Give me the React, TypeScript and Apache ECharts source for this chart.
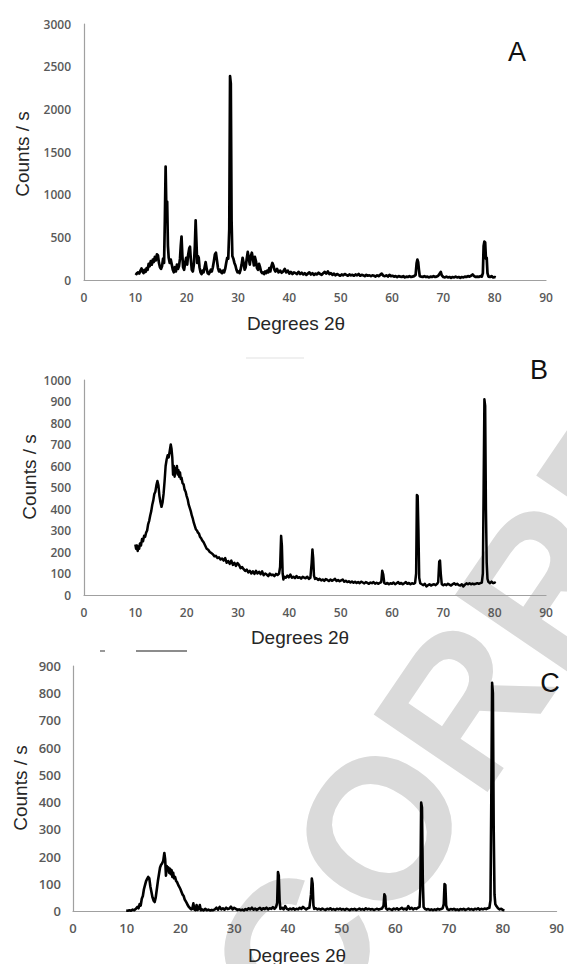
import React, { useEffect, useRef } from "react";
import * as echarts from "echarts";

// ---------- data (degrees 2θ, counts / s) ----------
const seriesA: [number, number][] = [
  [10.0, 80], [10.25, 70], [10.5, 90], [10.75, 75], [11.0, 110], [11.2, 135], [11.4, 100], [11.6, 80], [11.8, 120], [12.0, 95],
  [12.2, 140], [12.4, 120], [12.6, 190], [12.8, 160], [13.0, 220], [13.2, 180], [13.4, 240], [13.6, 210], [13.8, 270], [14.0, 230],
  [14.2, 300], [14.4, 290], [14.6, 200], [14.8, 150], [15.0, 130], [15.2, 160], [15.4, 250], [15.6, 200], [15.75, 700], [15.9, 1330],
  [16.05, 800], [16.2, 920], [16.35, 400], [16.5, 260], [16.7, 200], [16.9, 240], [17.1, 180], [17.3, 120], [17.5, 90], [17.7, 150],
  [17.9, 100], [18.1, 180], [18.3, 130], [18.5, 160], [18.7, 250], [18.85, 400], [19.0, 510], [19.15, 300], [19.3, 150], [19.5, 120],
  [19.7, 200], [19.9, 260], [20.1, 180], [20.3, 300], [20.5, 370], [20.65, 390], [20.8, 250], [21.0, 120], [21.2, 100], [21.4, 180],
  [21.6, 400], [21.75, 700], [21.9, 450], [22.05, 200], [22.2, 280], [22.35, 260], [22.5, 150], [22.7, 90], [22.9, 70], [23.1, 110],
  [23.3, 90], [23.5, 150], [23.7, 210], [23.9, 130], [24.1, 80], [24.3, 70], [24.5, 90], [24.7, 120], [24.9, 100], [25.1, 150],
  [25.3, 220], [25.5, 300], [25.7, 320], [25.9, 230], [26.1, 140], [26.3, 100], [26.5, 120], [26.7, 90], [26.9, 80], [27.1, 110],
  [27.3, 90], [27.5, 130], [27.7, 200], [27.9, 260], [28.1, 250], [28.3, 600], [28.45, 2390], [28.6, 2300], [28.75, 700], [28.9, 280],
  [29.1, 250], [29.3, 200], [29.5, 170], [29.7, 120], [29.9, 90], [30.1, 100], [30.3, 80], [30.5, 120], [30.7, 180], [30.9, 260],
  [31.1, 200], [31.3, 120], [31.5, 150], [31.7, 250], [31.9, 330], [32.1, 250], [32.3, 180], [32.5, 280], [32.7, 320], [32.9, 250],
  [33.1, 170], [33.3, 270], [33.5, 220], [33.7, 140], [33.9, 120], [34.1, 190], [34.3, 150], [34.5, 100], [34.7, 80], [34.9, 90],
  [35.1, 70], [35.3, 100], [35.5, 80], [35.7, 110], [35.9, 90], [36.1, 140], [36.3, 100], [36.5, 160], [36.7, 200], [36.9, 170],
  [37.1, 120], [37.3, 100], [37.6, 130], [37.9, 90], [38.2, 110], [38.5, 85], [38.8, 100], [39.1, 130], [39.4, 90], [39.7, 110],
  [40.0, 75], [40.3, 95], [40.6, 70], [40.9, 90], [41.2, 80], [41.5, 70], [41.8, 95], [42.1, 70], [42.4, 85], [42.7, 65],
  [43.0, 80], [43.3, 60], [43.6, 75], [43.9, 90], [44.2, 65], [44.5, 80], [44.8, 60], [45.1, 75], [45.4, 65], [45.7, 85],
  [46.0, 70], [46.3, 60], [46.6, 80], [46.9, 95], [47.2, 75], [47.5, 100], [47.8, 70], [48.1, 80], [48.4, 60], [48.7, 75],
  [49.0, 55], [49.3, 70], [49.6, 60], [49.9, 50], [50.2, 65], [50.5, 55], [50.8, 70], [51.1, 60], [51.4, 50], [51.7, 65],
  [52.0, 55], [52.3, 60], [52.6, 50], [52.9, 65], [53.2, 55], [53.5, 70], [53.8, 50], [54.1, 60], [54.4, 55], [54.7, 45],
  [55.0, 60], [55.3, 50], [55.6, 55], [55.9, 45], [56.2, 55], [56.5, 50], [56.8, 40], [57.1, 55], [57.4, 45], [57.7, 60],
  [58.0, 75], [58.3, 50], [58.6, 45], [58.9, 55], [59.2, 40], [59.5, 60], [59.8, 45], [60.1, 50], [60.4, 40], [60.7, 45],
  [61.0, 35], [61.3, 45], [61.6, 40], [61.9, 35], [62.2, 45], [62.5, 30], [62.8, 40], [63.1, 35], [63.4, 45], [63.7, 35],
  [64.0, 40], [64.3, 45], [64.6, 60], [64.8, 200], [64.95, 240], [65.1, 210], [65.25, 120], [65.4, 45], [65.7, 40], [66.0, 35],
  [66.3, 45], [66.6, 35], [66.9, 40], [67.2, 30], [67.5, 40], [67.8, 35], [68.1, 45], [68.4, 35], [68.7, 40], [69.0, 50],
  [69.3, 75], [69.5, 95], [69.7, 55], [70.0, 35], [70.3, 30], [70.6, 40], [70.9, 30], [71.2, 35], [71.5, 25], [71.8, 35],
  [72.1, 30], [72.4, 40], [72.7, 30], [73.0, 35], [73.3, 25], [73.6, 35], [73.9, 30], [74.2, 40], [74.5, 35], [74.8, 45],
  [75.1, 40], [75.4, 50], [75.7, 65], [76.0, 45], [76.3, 35], [76.6, 40], [76.9, 35], [77.2, 45], [77.5, 40], [77.7, 80],
  [77.85, 400], [78.0, 450], [78.15, 440], [78.3, 250], [78.45, 260], [78.6, 80], [78.8, 40], [79.1, 35], [79.4, 45], [79.7, 30],
  [80.0, 35], [80.2, 30],
];

const seriesB: [number, number][] = [
  [10.0, 235], [10.15, 215], [10.3, 230], [10.45, 205], [10.6, 225], [10.75, 215], [10.9, 240], [11.1, 230], [11.3, 260], [11.5, 250],
  [11.7, 275], [11.9, 270], [12.1, 290], [12.3, 300], [12.5, 330], [12.7, 345], [12.9, 370], [13.1, 390], [13.3, 420], [13.5, 440],
  [13.7, 470], [13.9, 480], [14.1, 510], [14.3, 530], [14.5, 510], [14.7, 460], [14.9, 430], [15.1, 410], [15.3, 430], [15.5, 470],
  [15.7, 530], [15.9, 600], [16.1, 630], [16.3, 650], [16.5, 640], [16.7, 670], [16.9, 700], [17.05, 680], [17.2, 640], [17.35, 560],
  [17.5, 600], [17.65, 550], [17.8, 590], [17.95, 570], [18.1, 600], [18.25, 560], [18.4, 580], [18.55, 550], [18.7, 570], [18.85, 540],
  [19.0, 545], [19.2, 520], [19.4, 515], [19.6, 490], [19.8, 480], [20.0, 460], [20.2, 445], [20.4, 420], [20.6, 405], [20.8, 390],
  [21.0, 370], [21.2, 355], [21.4, 335], [21.6, 320], [21.8, 305], [22.0, 300], [22.2, 290], [22.4, 285], [22.6, 270], [22.8, 265],
  [23.0, 255], [23.3, 245], [23.6, 230], [23.9, 215], [24.2, 210], [24.5, 200], [24.8, 195], [25.1, 190], [25.4, 180], [25.7, 182],
  [26.0, 172], [26.3, 175], [26.6, 165], [26.9, 170], [27.2, 160], [27.5, 172], [27.8, 150], [28.1, 158], [28.4, 145], [28.7, 160],
  [29.0, 140], [29.3, 150], [29.6, 135], [29.9, 148], [30.2, 140], [30.5, 125], [30.8, 130], [31.1, 120], [31.4, 112], [31.7, 118],
  [32.0, 105], [32.3, 112], [32.6, 100], [32.9, 110], [33.2, 98], [33.5, 112], [33.8, 100], [34.1, 108], [34.4, 97], [34.7, 110],
  [35.0, 92], [35.3, 100], [35.6, 95], [35.9, 88], [36.2, 100], [36.5, 92], [36.8, 95], [37.1, 88], [37.4, 98], [37.7, 93],
  [38.0, 100], [38.2, 130], [38.4, 275], [38.55, 230], [38.7, 100], [38.85, 72], [39.0, 85], [39.3, 80], [39.6, 90], [39.9, 82],
  [40.2, 95], [40.5, 80], [40.8, 85], [41.1, 78], [41.4, 88], [41.7, 80], [42.0, 83], [42.3, 76], [42.6, 85], [42.9, 80],
  [43.2, 78], [43.5, 85], [43.8, 75], [44.1, 80], [44.35, 150], [44.5, 212], [44.65, 170], [44.8, 90], [45.0, 75], [45.3, 78],
  [45.6, 70], [45.9, 75], [46.2, 68], [46.5, 72], [46.8, 66], [47.1, 74], [47.4, 70], [47.7, 65], [48.0, 72], [48.3, 66],
  [48.6, 70], [48.9, 75], [49.2, 65], [49.5, 70], [49.8, 64], [50.1, 68], [50.4, 72], [50.7, 62], [51.0, 66], [51.3, 60],
  [51.6, 64], [51.9, 58], [52.2, 63], [52.5, 57], [52.8, 62], [53.1, 56], [53.4, 60], [53.7, 55], [54.0, 62], [54.3, 58],
  [54.6, 54], [54.9, 60], [55.2, 56], [55.5, 52], [55.8, 58], [56.1, 55], [56.4, 60], [56.7, 53], [57.0, 57], [57.3, 52],
  [57.6, 56], [57.9, 60], [58.1, 113], [58.3, 95], [58.5, 55], [58.8, 52], [59.1, 56], [59.4, 50], [59.7, 55], [60.0, 52],
  [60.3, 58], [60.6, 50], [60.9, 55], [61.2, 60], [61.5, 52], [61.8, 56], [62.1, 50], [62.4, 55], [62.7, 60], [63.0, 52],
  [63.3, 56], [63.6, 50], [63.9, 55], [64.2, 52], [64.5, 56], [64.7, 100], [64.85, 465], [65.0, 460], [65.15, 300], [65.3, 80],
  [65.5, 55], [65.8, 50], [66.1, 46], [66.4, 52], [66.7, 40], [67.0, 45], [67.3, 50], [67.6, 44], [67.9, 48], [68.2, 50],
  [68.5, 46], [68.8, 52], [69.0, 60], [69.2, 155], [69.35, 160], [69.5, 100], [69.7, 50], [70.0, 45], [70.3, 50], [70.6, 46],
  [70.9, 52], [71.2, 48], [71.5, 44], [71.8, 50], [72.1, 55], [72.4, 48], [72.7, 52], [73.0, 46], [73.3, 44], [73.6, 50],
  [73.9, 40], [74.2, 48], [74.5, 54], [74.8, 50], [75.1, 55], [75.4, 50], [75.7, 53], [76.0, 50], [76.3, 52], [76.6, 55],
  [76.9, 52], [77.2, 55], [77.5, 58], [77.7, 100], [77.85, 500], [78.0, 910], [78.15, 880], [78.3, 400], [78.45, 150], [78.6, 75],
  [78.8, 60], [79.1, 55], [79.4, 62], [79.7, 55], [80.0, 58], [80.2, 55],
];

const seriesC: [number, number][] = [
  [9.9, 2], [10.2, 1], [10.5, 3], [10.8, 1], [11.1, 5], [11.4, 3], [11.7, 8], [12.0, 15], [12.2, 10], [12.4, 25],
  [12.6, 20], [12.8, 45], [13.0, 55], [13.2, 80], [13.4, 95], [13.6, 110], [13.8, 118], [14.0, 125], [14.2, 120], [14.4, 90],
  [14.6, 70], [14.8, 50], [15.0, 38], [15.2, 33], [15.4, 50], [15.6, 80], [15.8, 110], [16.0, 135], [16.2, 160], [16.4, 170],
  [16.6, 175], [16.8, 185], [17.0, 213], [17.15, 190], [17.3, 130], [17.45, 165], [17.6, 150], [17.75, 160], [17.9, 140], [18.05, 155],
  [18.2, 135], [18.35, 150], [18.5, 125], [18.65, 140], [18.8, 120], [19.0, 125], [19.2, 110], [19.4, 105], [19.6, 95], [19.8, 88],
  [20.0, 80], [20.2, 70], [20.4, 60], [20.6, 55], [20.8, 42], [21.0, 35], [21.2, 28], [21.4, 20], [21.6, 14], [21.8, 10],
  [22.0, 6], [22.2, 8], [22.4, 28], [22.6, 5], [22.8, 3], [23.0, 22], [23.2, 4], [23.4, 8], [23.6, 22], [23.8, 3],
  [24.0, 6], [24.3, 2], [24.6, 8], [24.9, 3], [25.2, 5], [25.5, 2], [25.8, 4], [26.1, 3], [26.4, 6], [26.7, 12],
  [27.0, 5], [27.3, 15], [27.6, 6], [27.9, 10], [28.2, 5], [28.5, 12], [28.8, 7], [29.1, 9], [29.4, 16], [29.7, 6],
  [30.0, 12], [30.3, 8], [30.6, 4], [30.9, 6], [31.2, 3], [31.5, 5], [31.8, 2], [32.1, 7], [32.4, 4], [32.7, 10],
  [33.0, 6], [33.3, 12], [33.6, 5], [33.9, 9], [34.2, 4], [34.5, 8], [34.8, 12], [35.1, 5], [35.4, 10], [35.7, 7],
  [36.0, 12], [36.3, 6], [36.6, 10], [36.9, 8], [37.2, 14], [37.5, 8], [37.8, 15], [38.0, 30], [38.15, 143], [38.3, 130],
  [38.45, 40], [38.6, 8], [38.9, 12], [39.2, 6], [39.5, 18], [39.8, 8], [40.1, 5], [40.4, 9], [40.7, 6], [41.0, 10],
  [41.3, 5], [41.6, 8], [41.9, 6], [42.2, 12], [42.5, 8], [42.8, 15], [43.1, 10], [43.4, 6], [43.7, 10], [44.0, 12],
  [44.3, 60], [44.45, 119], [44.6, 100], [44.75, 20], [44.9, 8], [45.2, 10], [45.5, 6], [45.8, 8], [46.1, 5], [46.4, 9],
  [46.7, 6], [47.0, 4], [47.3, 8], [47.6, 6], [47.9, 10], [48.2, 5], [48.5, 7], [48.8, 4], [49.1, 8], [49.4, 6],
  [49.7, 9], [50.0, 5], [50.3, 7], [50.6, 4], [50.9, 8], [51.2, 6], [51.5, 3], [51.8, 7], [52.1, 5], [52.4, 8],
  [52.7, 4], [53.0, 6], [53.3, 9], [53.6, 5], [53.9, 7], [54.2, 4], [54.5, 10], [54.8, 6], [55.1, 8], [55.4, 5],
  [55.7, 7], [56.0, 4], [56.3, 6], [56.6, 8], [56.9, 5], [57.2, 7], [57.5, 9], [57.8, 20], [57.95, 61], [58.1, 55],
  [58.25, 10], [58.5, 5], [58.8, 8], [59.1, 6], [59.4, 4], [59.7, 9], [60.0, 6], [60.3, 10], [60.6, 5], [60.9, 8],
  [61.2, 12], [61.5, 6], [61.8, 9], [62.1, 5], [62.4, 18], [62.7, 8], [63.0, 12], [63.3, 6], [63.6, 10], [63.9, 8],
  [64.2, 12], [64.5, 15], [64.65, 80], [64.8, 398], [64.95, 380], [65.1, 120], [65.25, 15], [65.5, 8], [65.8, 5], [66.1, 7],
  [66.4, 4], [66.7, 6], [67.0, 3], [67.3, 6], [67.6, 4], [67.9, 8], [68.2, 5], [68.5, 7], [68.8, 10], [69.0, 25],
  [69.15, 99], [69.3, 95], [69.45, 20], [69.7, 6], [70.0, 4], [70.3, 7], [70.6, 5], [70.9, 8], [71.2, 4], [71.5, 6],
  [71.8, 3], [72.1, 7], [72.4, 5], [72.7, 8], [73.0, 4], [73.3, 6], [73.6, 9], [73.9, 5], [74.2, 7], [74.5, 4],
  [74.8, 8], [75.1, 6], [75.4, 10], [75.7, 5], [76.0, 8], [76.3, 6], [76.6, 9], [76.9, 7], [77.2, 10], [77.5, 12],
  [77.7, 40], [77.85, 400], [78.0, 838], [78.15, 800], [78.3, 300], [78.45, 60], [78.6, 25], [78.8, 18], [79.1, 10], [79.4, 6],
  [79.7, 8], [80.0, 4], [80.3, 3],
];

const panelLetters = ["A", "B", "C"];
const yMax = [3000, 1000, 900];
const yStep = [500, 100, 100];
const xMin = 0;
const xMax = 90;
const xStep = 10;
const xTitle = "Degrees 2θ";
const yTitle = "Counts / s";
const watermark = "CORRECTED PROOF";

export default function App() {
  const ref = useRef<HTMLDivElement>(null);

  useEffect(() => {
    document.body.style.margin = "0";
    if (!ref.current) return;
    const chart = echarts.init(ref.current, undefined, { renderer: "svg" });

    const grids = [
      { left: 84, top: 24, width: 462, height: 256 },
      { left: 84, top: 380, width: 462, height: 215 },
      { left: 73, top: 666, width: 486, height: 245 },
    ];
    const labelFont = [12, 12, 13];
    const yLabelMargin = [13, 13, 12];
    const xLabelMargin = [11, 11, 10];
    const data = [seriesA, seriesB, seriesC];
    const lineW = [2.7, 2.5, 2.6];

    const axisLine = { show: true, lineStyle: { color: "#a0a0a0", width: 1.2 } };
    const plain = (v: number) => String(v);

    const xAxis = grids.map((_, i) => ({
      type: "value",
      gridIndex: i,
      min: xMin,
      max: xMax,
      interval: xStep,
      axisLine,
      axisTick: { show: false },
      splitLine: { show: false },
      axisLabel: {
        color: "#595959",
        fontFamily: "Open Sans",
        fontWeight: 600,
        fontSize: labelFont[i],
        margin: xLabelMargin[i],
        formatter: plain,
      },
    }));
    const yAxis = grids.map((_, i) => ({
      type: "value",
      gridIndex: i,
      min: 0,
      max: yMax[i],
      interval: yStep[i],
      axisLine,
      axisTick: { show: false },
      splitLine: { show: false },
      axisLabel: {
        color: "#595959",
        fontFamily: "Open Sans",
        fontWeight: 600,
        fontSize: labelFont[i],
        margin: yLabelMargin[i],
        formatter: plain,
      },
    }));
    const series = data.map((d, i) => ({
      type: "line",
      xAxisIndex: i,
      yAxisIndex: i,
      data: d,
      showSymbol: false,
      symbol: "none",
      lineStyle: { color: "#000", width: lineW[i], join: "round" },
      z: 3,
    }));

    const titleFont = '19px "Liberation Sans", Arial, sans-serif';
    const yTitlePos = [
      [22, 154],
      [29, 477],
      [20, 788],
    ];
    const xTitlePos = [
      [296, 323],
      [300, 637],
      [297, 955],
    ];
    const letterPos = [
      [517, 52],
      [539, 370],
      [550, 683],
    ];

    const wmAngle = (55.8 * Math.PI) / 180;

    const graphic: any[] = [
      {
        type: "text",
        z: -10,
        silent: true,
        x: 254,
        y: 1012,
        rotation: wmAngle,
        style: {
          text: watermark,
          font: 'bold 200px "Liberation Sans", Arial, sans-serif',
          fill: "#dadada",
          textAlign: "left",
          textVerticalAlign: "middle",
        },
      },
      {
        type: "line",
        silent: true,
        shape: { x1: 100, y1: 651, x2: 105, y2: 651 },
        style: { stroke: "#777", lineWidth: 1.5 },
      },
      {
        type: "line",
        silent: true,
        shape: { x1: 136, y1: 651, x2: 187, y2: 651 },
        style: { stroke: "#666", lineWidth: 1.5 },
      },
      {
        type: "line",
        silent: true,
        shape: { x1: 246, y1: 358, x2: 304, y2: 358 },
        style: { stroke: "#f0f0f0", lineWidth: 2 },
      },
    ];
    for (let i = 0; i < 3; i++) {
      graphic.push({
        type: "text",
        silent: true,
        x: yTitlePos[i][0],
        y: yTitlePos[i][1],
        rotation: Math.PI / 2,
        style: {
          text: yTitle,
          font: titleFont,
          fill: "#262626",
          textAlign: "center",
          textVerticalAlign: "middle",
        },
      });
      graphic.push({
        type: "text",
        silent: true,
        x: xTitlePos[i][0],
        y: xTitlePos[i][1],
        style: {
          text: xTitle,
          font: titleFont,
          fill: "#262626",
          textAlign: "center",
          textVerticalAlign: "middle",
        },
      });
      graphic.push({
        type: "text",
        silent: true,
        x: letterPos[i][0],
        y: letterPos[i][1],
        style: {
          text: panelLetters[i],
          font: '27px "Liberation Sans", Arial, sans-serif',
          fill: "#111",
          textAlign: "center",
          textVerticalAlign: "middle",
        },
      });
    }

    chart.setOption({
      animation: false,
      backgroundColor: "#fff",
      grid: grids.map((g) => ({ ...g, containLabel: false })),
      xAxis,
      yAxis,
      series,
      graphic,
    });

    return () => chart.dispose();
  }, []);

  return <div ref={ref} style={{ width: 567, height: 964 }} />;
}
